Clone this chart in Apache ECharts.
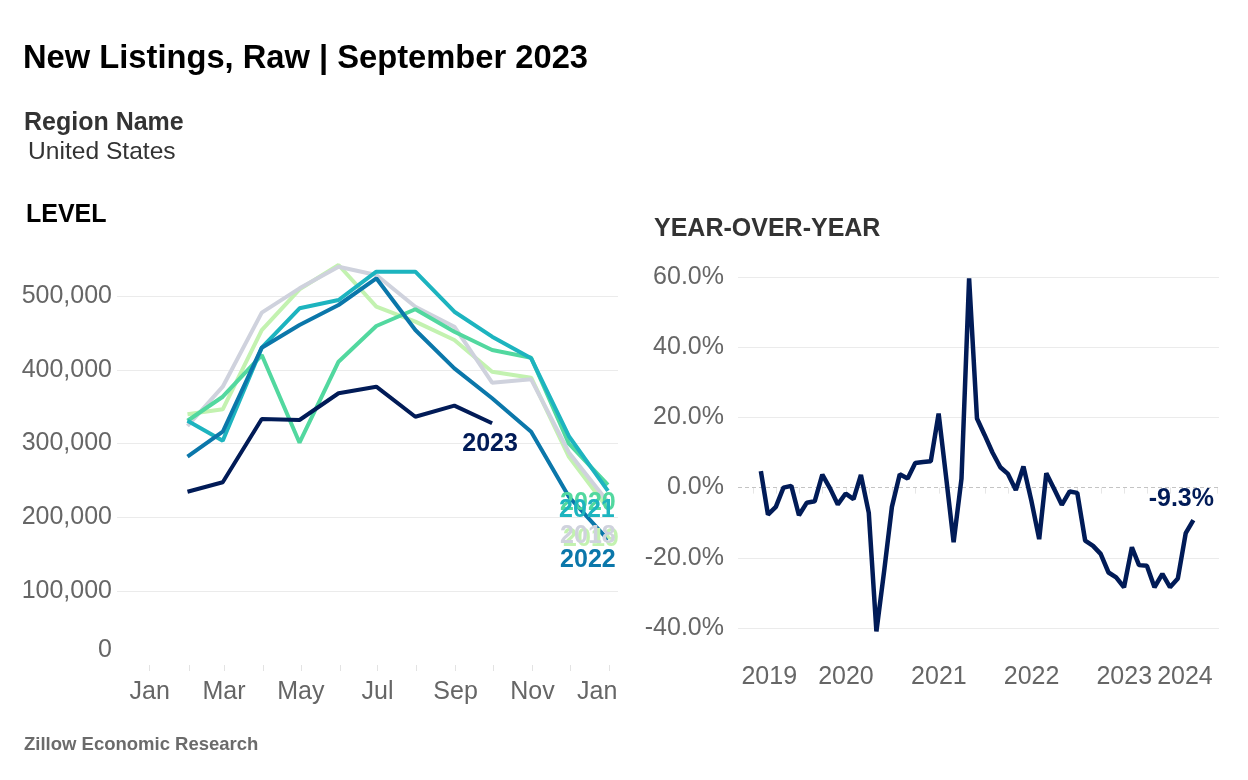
<!DOCTYPE html>
<html>
<head>
<meta charset="utf-8">
<title>New Listings, Raw | September 2023</title>
<script src="https://cdn.jsdelivr.net/npm/echarts@6/dist/echarts.min.js"></script>
<style>
  html, body { margin: 0; padding: 0; background: #fff; }
  #chart { width: 1248px; height: 780px; }
</style>
</head>
<body>
<div id="chart"></div>
<script>
  // month-end dates of the LEVEL panel (every year drawn on the same calendar)
  const monthEnds = ['01-31', '02-28', '03-31', '04-30', '05-31', '06-30',
    '07-31', '08-31', '09-30', '10-31', '11-30', '12-31'];
  const monthLabels = ['Jan', 'Mar', 'May', 'Jul', 'Sep', 'Nov', 'Jan'];

  const level2018 = [323800, 377100, 477400, 510400, 539700, 528500, 485500, 458400, 382500, 387100, 288000, 221000];
  const level2019 = [339700, 346500, 453900, 509100, 542000, 485500, 465200, 440400, 397400, 389300, 282000, 212000];
  const level2020 = [331000, 363500, 420000, 301200, 411000, 459300, 482000, 451600, 426800, 416400, 300000, 244000];
  const level2021 = [331000, 303900, 430000, 483300, 494600, 532900, 532900, 478700, 444900, 415600, 310000, 236000];
  const level2022 = [282200, 316100, 430000, 460700, 487800, 524000, 453900, 402000, 361400, 316100, 228000, 170000];
  const level2023 = [234800, 247600, 333300, 332000, 368200, 377100, 336400, 351400, 327500];
  const levelTicks = [0, 100000, 200000, 300000, 400000, 500000];

  // YEAR-OVER-YEAR panel, monthly from Jan 2019 to Sep 2023 (percent)
  const yoyFirstMonth = [2019, 1];
  const yoyValues = [
    4.7, -7.7, -5.5, 0.0, 0.5, -7.9, -4.3, -3.9, 3.7, -0.3, -4.8, -1.7,
    -3.3, 3.6, -7.2, -41.0, -23.5, -5.5, 3.8, 2.6, 7.0, 7.3, 7.5, 21.1,
    2.0, -15.6, 2.5, 59.6, 19.7, 15.0, 10.0, 5.8, 3.9, -0.7, 6.0, -3.7,
    -14.7, 4.1, -0.4, -4.9, -1.1, -1.5, -15.1, -16.6, -18.9, -24.2, -25.6, -28.4,
    -17.0, -22.1, -22.3, -28.4, -24.6, -28.4, -25.9, -13.0, -9.3
  ];
  const yoyTicks = [-40, -20, 0, 20, 40, 60];
  const yoyYears = ['2019', '2020', '2021', '2022', '2023', '2024'];

  const FONT = '"Liberation Sans", Arial, Helvetica, sans-serif';
  const DAY = 86400000;
  const GRID_COLOR = '#ebebeb';
  const LABEL_SIZE = 25;

  // LEVEL x: day of year
  function dayOfYear(md) {
    const [m, d] = md.split('-').map(Number);
    return (Date.UTC(2023, m - 1, d) - Date.UTC(2023, 0, 1)) / DAY;
  }
  const levelX = monthEnds.map(dayOfYear);
  const monthStarts = [];
  for (let m = 0; m <= 12; m++) monthStarts.push((Date.UTC(2023, m, 1) - Date.UTC(2023, 0, 1)) / DAY);
  const labelDays = monthStarts.filter((d, i) => i % 2 === 0);

  // YoY x: days since 2019-01-01
  const base = Date.UTC(2019, 0, 1);
  const yoyX = yoyValues.map((v, i) => {
    const m = yoyFirstMonth[1] - 1 + i;
    return (Date.UTC(yoyFirstMonth[0], m + 1, 0) - base) / DAY;
  });
  const yearDays = yoyYears.map(y => (Date.UTC(+y, 0, 1) - base) / DAY);
  const quarterDays = [];
  for (let q = 0; q <= 20; q++) quarterDays.push((Date.UTC(2019, q * 3, 1) - base) / DAY);

  const pair = (xs, ys) => ys.map((v, i) => [xs[i], v]);

  const levelSeries = [
    { name: '2019', data: level2019, color: '#c3f2b0', off: [-17, 31] },
    { name: '2018', data: level2018, color: '#cfd2dd', off: [-20, 34] },
    { name: '2020', data: level2020, color: '#52d89f', off: [-20, 18] },
    { name: '2021', data: level2021, color: '#1db4bf', off: [-21, 19] },
    { name: '2022', data: level2022, color: '#0b77aa', off: [-20, 21] },
    { name: '2023', data: level2023, color: '#011b57', off: [-2, 21] }
  ].map(s => ({
    type: 'line',
    name: s.name,
    xAxisIndex: 0,
    yAxisIndex: 0,
    data: pair(levelX, s.data),
    showSymbol: false,
    lineStyle: { width: 4, color: s.color },
    itemStyle: { color: s.color },
    endLabel: {
      show: true,
      formatter: s.name,
      color: s.color,
      fontFamily: FONT,
      fontWeight: 'bold',
      fontSize: LABEL_SIZE,
      distance: 0,
      align: 'center',
      verticalAlign: 'middle',
      offset: s.off
    }
  }));

  const monthName = {};
  labelDays.forEach((d, i) => { monthName[d] = monthLabels[i]; });
  const yearName = {};
  yearDays.forEach((d, i) => { yearName[d] = yoyYears[i]; });

  const richLabel = pad => ({ padding: pad, color: '#666', fontSize: LABEL_SIZE, fontFamily: FONT });

  const chart = echarts.init(document.getElementById('chart'));
  chart.setOption({
    animation: false,
    backgroundColor: '#fff',
    textStyle: { fontFamily: FONT },
    title: [
      { text: 'New Listings, Raw | September 2023', left: 23, top: 42, padding: 0,
        textStyle: { fontSize: 32.7, fontWeight: 'bold', color: '#000', fontFamily: FONT } },
      { text: 'Region Name', left: 24, top: 111, padding: 0,
        textStyle: { fontSize: 25, fontWeight: 'bold', color: '#333', fontFamily: FONT } },
      { text: 'United States', left: 28, top: 140, padding: 0,
        textStyle: { fontSize: 24.6, fontWeight: 'normal', color: '#333', fontFamily: FONT } },
      { text: 'LEVEL', left: 26, top: 203, padding: 0,
        textStyle: { fontSize: 25, fontWeight: 'bold', color: '#000', fontFamily: FONT } },
      { text: 'YEAR-OVER-YEAR', left: 654, top: 217, padding: 0,
        textStyle: { fontSize: 25, fontWeight: 'bold', color: '#333', fontFamily: FONT } },
      { text: 'Zillow Economic Research', left: 24, top: 735, padding: 0,
        textStyle: { fontSize: 18.5, fontWeight: 'bold', color: '#6b6b6b', fontFamily: FONT } }
    ],
    grid: [
      { left: 117, width: 501, top: 222.2, height: 442.8 },
      { left: 738, width: 481, top: 263, height: 386 }
    ],
    xAxis: [
      {
        type: 'value', gridIndex: 0, min: -26, max: 372,
        axisLine: { show: false },
        splitLine: { show: false },
        axisTick: { show: true, customValues: monthStarts, length: 6, lineStyle: { color: '#e3e3e3' } },
        axisLabel: {
          customValues: labelDays, margin: 15, color: '#666', fontSize: LABEL_SIZE, fontFamily: FONT,
          formatter: v => v === 365 ? '{s|' + monthName[v] + '}' : monthName[v],
          rich: { s: richLabel([0, 24, 0, 0]) }
        }
      },
      {
        type: 'value', gridIndex: 1, min: -60, max: 1834,
        axisLine: { show: false },
        splitLine: { show: false },
        axisTick: { show: true, customValues: quarterDays, length: 6, lineStyle: { color: '#e6e6e6' } },
        axisLabel: {
          customValues: yearDays, margin: 16, color: '#666', fontSize: LABEL_SIZE, fontFamily: FONT,
          formatter: v => {
            const y = yearName[v];
            if (y === '2019') return '{l|' + y + '}';
            if (y === '2024') return '{r|' + y + '}';
            return y;
          },
          rich: { l: richLabel([0, 0, 0, 32]), r: richLabel([0, 64, 0, 0]) }
        }
      }
    ],
    yAxis: [
      {
        type: 'value', gridIndex: 0, min: 0, max: 600000,
        axisLine: { show: false },
        axisTick: { show: false, customValues: levelTicks },
        splitLine: { show: true, lineStyle: { color: ['rgba(0,0,0,0)', GRID_COLOR, GRID_COLOR, GRID_COLOR, GRID_COLOR, GRID_COLOR], width: 1 } },
        axisLabel: {
          customValues: levelTicks, margin: 5, color: '#666', fontSize: LABEL_SIZE, fontFamily: FONT,
          formatter: v => v === 0 ? '{z|0}' : v.toLocaleString('en-US'),
          rich: { z: richLabel([0, 0, 30, 0]) }
        }
      },
      {
        type: 'value', gridIndex: 1, min: -46, max: 64,
        axisLine: { show: false },
        axisTick: { show: false, customValues: yoyTicks },
        splitLine: { show: true, lineStyle: { color: [GRID_COLOR, GRID_COLOR, 'rgba(0,0,0,0)', GRID_COLOR, GRID_COLOR, GRID_COLOR], width: 1 } },
        axisLabel: {
          customValues: yoyTicks, margin: 14, color: '#666', fontSize: LABEL_SIZE, fontFamily: FONT,
          formatter: v => v.toFixed(1) + '%'
        }
      }
    ],
    series: levelSeries.concat([
      {
        type: 'line',
        name: 'YoY',
        xAxisIndex: 1,
        yAxisIndex: 1,
        data: pair(yoyX, yoyValues),
        showSymbol: false,
        lineStyle: { width: 4.5, color: '#011b57' },
        itemStyle: { color: '#011b57' },
        z: 3,
        endLabel: {
          show: true,
          formatter: p => p.value[1].toFixed(1) + '%',
          color: '#011b57', fontFamily: FONT, fontWeight: 'bold', fontSize: LABEL_SIZE,
          distance: 0, align: 'center', verticalAlign: 'middle', offset: [-12, -21]
        },
        markLine: {
          silent: true,
          symbol: 'none',
          z: 1,
          label: { show: false },
          lineStyle: { color: '#c4c4c4', type: [4, 3], width: 1 },
          data: [{ yAxis: 0 }]
        }
      }
    ])
  });
</script>
</body>
</html>
